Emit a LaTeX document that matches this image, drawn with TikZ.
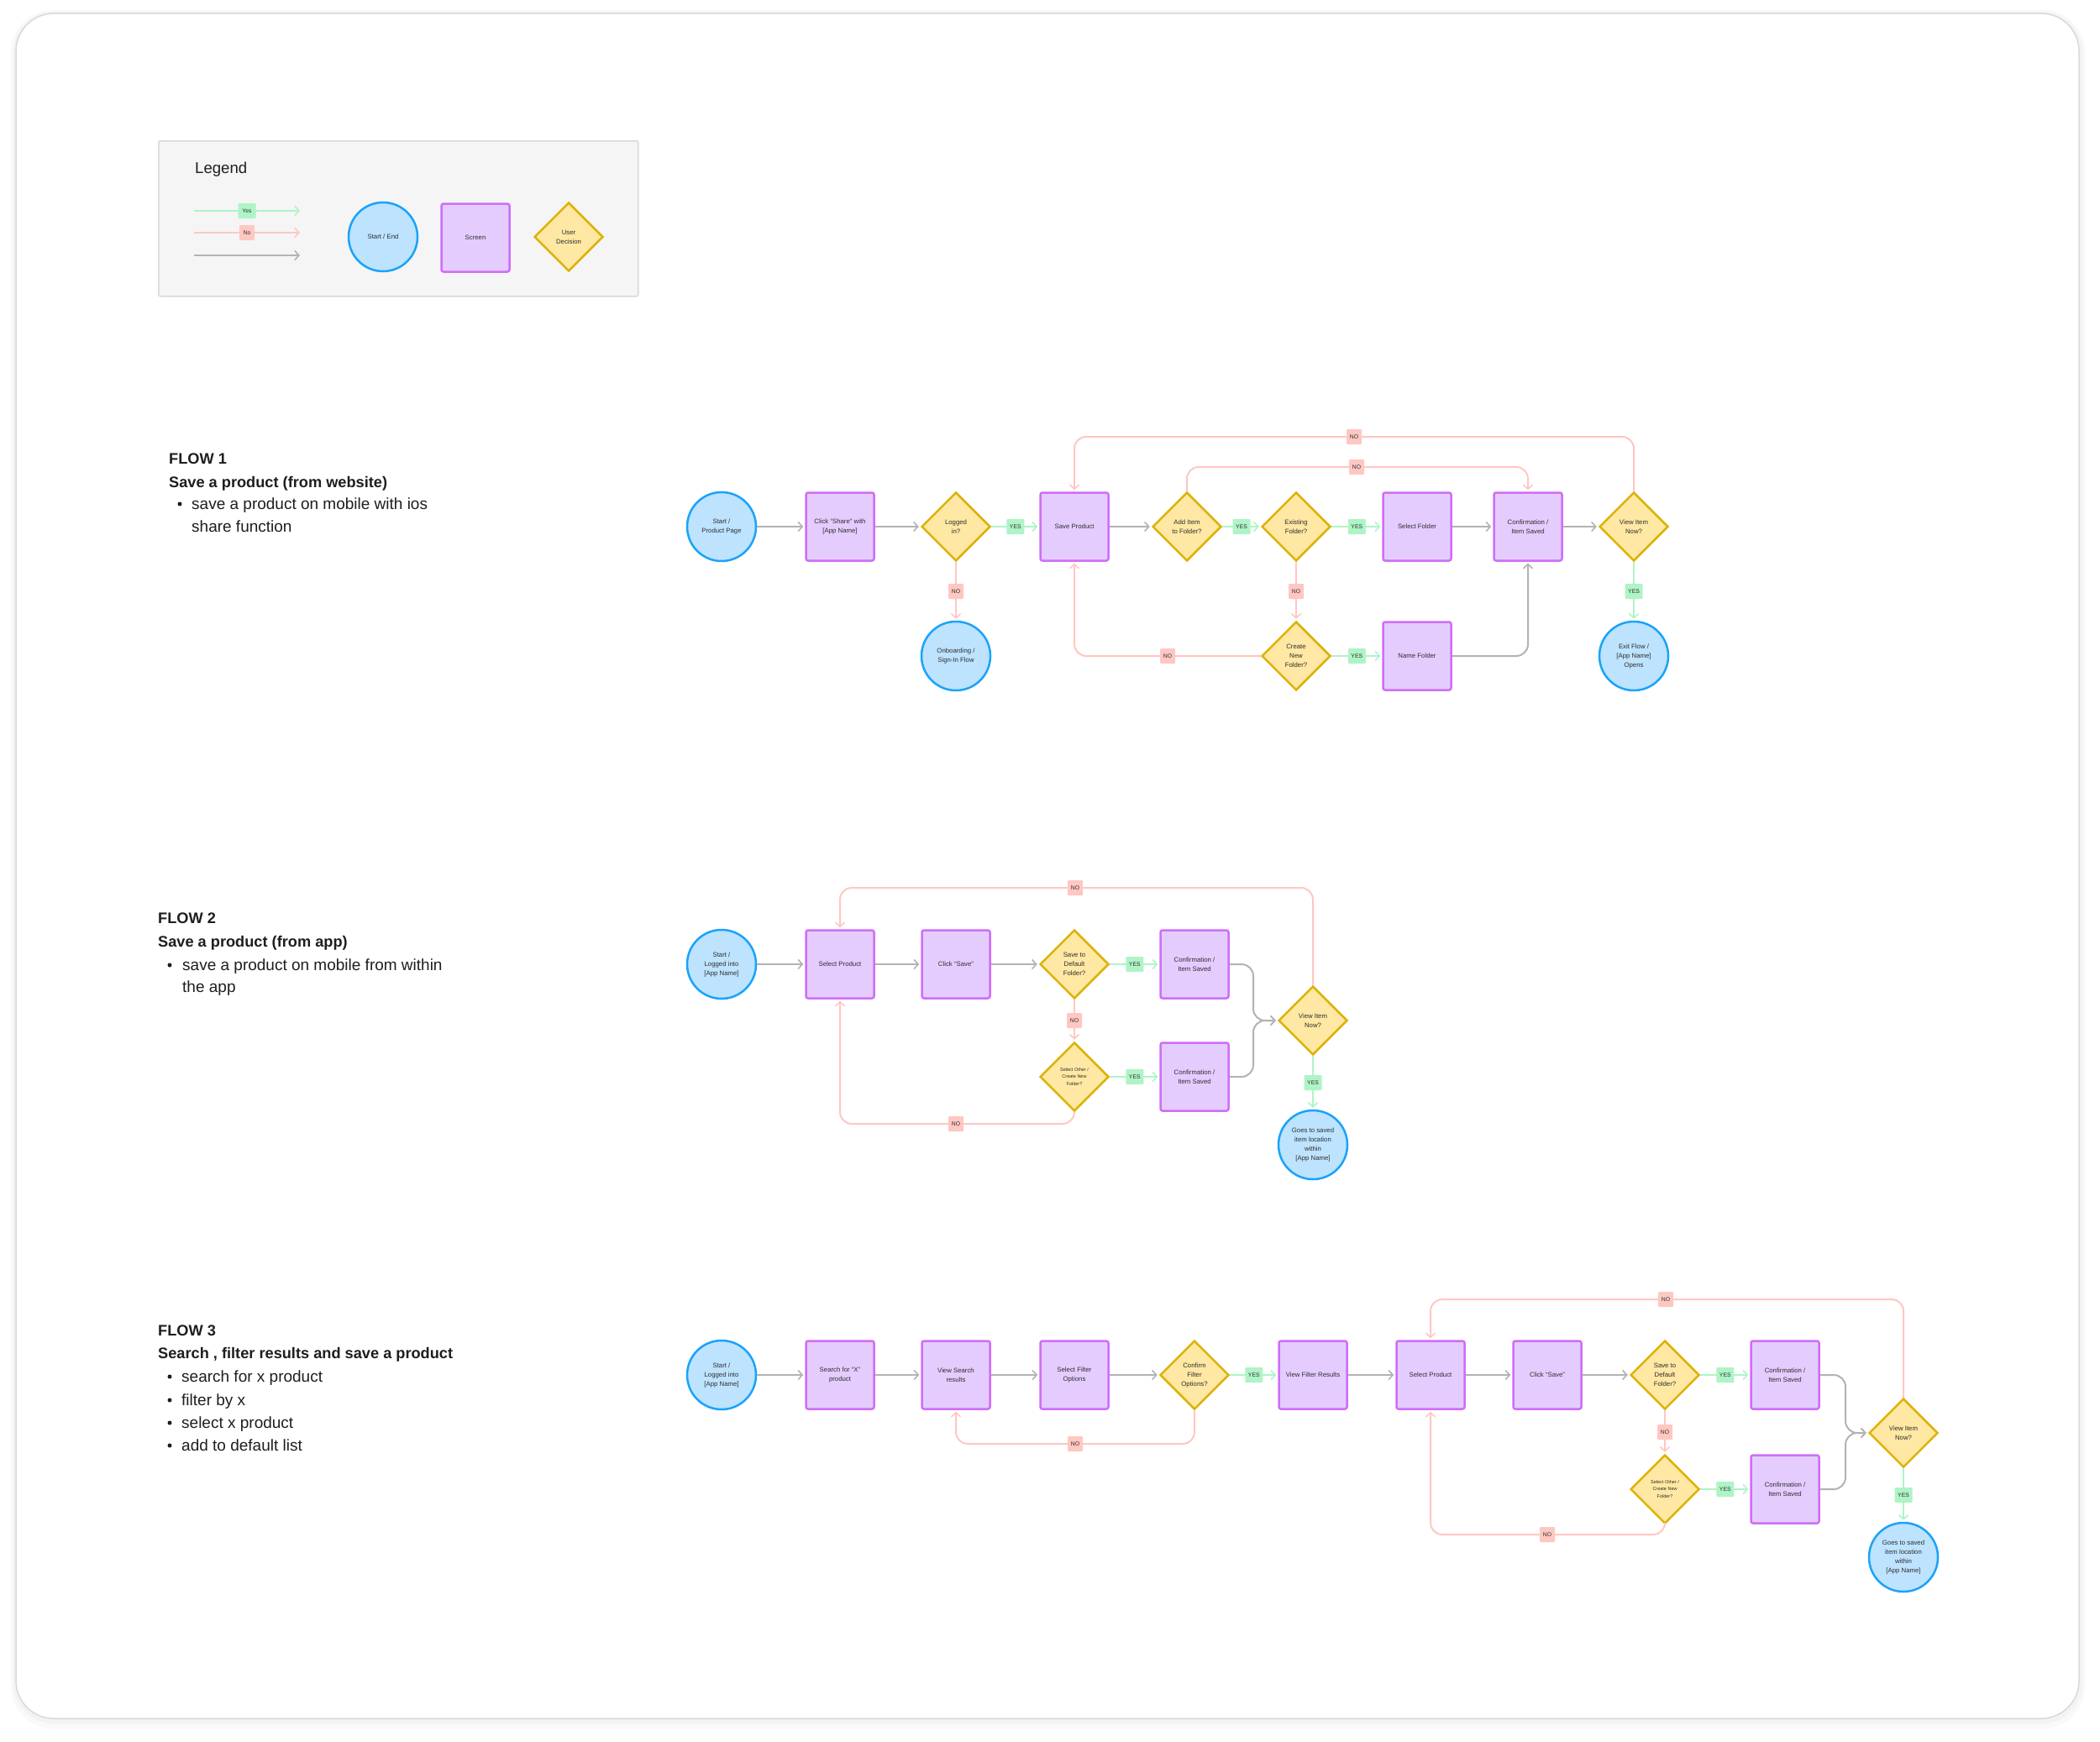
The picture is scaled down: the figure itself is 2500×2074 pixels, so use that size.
\documentclass[tikz,border=0pt]{standalone}
\usepackage{fontspec}
\setmainfont{Liberation Sans}
\usetikzlibrary{arrows.meta,shapes.geometric}
\definecolor{startfill}{HTML}{BDE3FF}
\definecolor{startdraw}{HTML}{1AA3FA}
\definecolor{scrfill}{HTML}{E4CCFF}
\definecolor{scrdraw}{HTML}{CF6EF7}
\definecolor{decfill}{HTML}{FFE8A3}
\definecolor{decdraw}{HTML}{DDB30B}
\definecolor{yesc}{HTML}{AFF4C6}
\definecolor{noc}{HTML}{FFC7C2}
\definecolor{grayc}{HTML}{B3B3B3}
\definecolor{txt}{HTML}{2E2E2E}
\definecolor{dtxt}{HTML}{1E1E1E}
\definecolor{legfill}{HTML}{F5F5F5}
\definecolor{legdraw}{HTML}{D9D9D9}
\newcommand\nodefont{\fontsize{7.8pt}{11pt}\selectfont}
\newcommand\smallnodefont{\fontsize{5.5pt}{8.3pt}\selectfont}
\newcommand\labfont{\fontsize{6.8pt}{8pt}\selectfont}
\newcommand\descfont{\fontsize{19pt}{22pt}\selectfont}
\newcommand\descbold{\fontsize{18.2pt}{22pt}\selectfont\bfseries}
\tikzset{
  startend/.style={circle, draw=startdraw, fill=startfill, line width=2.5pt, minimum size=82pt, inner sep=0pt, font=\nodefont, align=center, text=txt},
  screen/.style={rectangle, rounded corners=2.5pt, draw=scrdraw, fill=scrfill, line width=2.5pt, minimum width=81pt, minimum height=81pt, inner sep=0pt, font=\nodefont, align=center, text=txt},
  decision/.style={diamond, aspect=1, draw=decdraw, fill=decfill, line width=2.5pt, minimum width=82pt, minimum height=82pt, inner sep=0pt, font=\nodefont, align=center, text=txt},
  yeslabel/.style={fill=yesc, rectangle, rounded corners=1pt, font=\labfont, text=txt, inner sep=0pt, minimum width=21pt, minimum height=18pt},
  nolabel/.style={fill=noc, rectangle, rounded corners=1pt, font=\labfont, text=txt, inner sep=0pt, minimum width=18pt, minimum height=18pt},
  flowarrow/.style={line width=2pt, -{Straight Barb[length=5pt,width=11pt,line width=1.6pt]}, shorten >=2pt},
  yesline/.style={flowarrow, draw=yesc},
  noline/.style={flowarrow, draw=noc, rounded corners=14pt},
  grayline/.style={flowarrow, draw=grayc, rounded corners=14pt},
  desc/.style={anchor=base west, font=\descfont, text=dtxt, inner sep=0pt},
  descb/.style={anchor=base west, font=\descbold, text=dtxt, inner sep=0pt},
  bul/.style={circle, fill=dtxt, minimum size=5pt, inner sep=0pt}
}
\begin{document}
\begin{tikzpicture}[x=1pt,y=-1pt]
\useasboundingbox (0,0) rectangle (2500,2074);
% outer frame
\fill[black, opacity=0.025, rounded corners=50pt] (13,12) rectangle (2482,2058);
\fill[black, opacity=0.025, rounded corners=48pt] (16,14) rectangle (2479,2052);
\draw[legdraw, line width=1.5pt, fill=white, rounded corners=45pt] (19,16) rectangle (2475,2046);

% legend
\node[draw=legdraw, fill=legfill, line width=1.5pt, rounded corners=2pt, minimum width=571pt, minimum height=185pt, anchor=north west, inner sep=0pt] (legbox) at (188,167) {};
\node[anchor=base west, inner sep=0pt, font=\fontsize{18.6pt}{22pt}\selectfont, text=dtxt] (legtitle) at (232,206) {Legend};
\coordinate (ly1) at (231,251); \coordinate (ly2) at (357,251);
\coordinate (ln1) at (231,277); \coordinate (ln2) at (357,277);
\coordinate (lg1) at (231,304); \coordinate (lg2) at (357,304);
\draw[yesline, shorten >=0pt] (ly1) -- node[yeslabel]{Yes} (ly2);
\draw[noline, shorten >=0pt] (ln1) -- node[nolabel]{No} (ln2);
\draw[grayline, shorten >=0pt] (lg1) -- (lg2);
\node[startend] (lstart) at (456,282) {Start / End};
\node[screen] (lscreen) at (566,283) {Screen};
\node[decision] (ldec) at (677,282) {User\\Decision};

% descriptions
\node[descb] (f1a) at (201,552) {FLOW 1};
\node[descb] (f1b) at (201,580) {Save a product (from website)};
\node[bul] (f1c) at (214,600) {};
\node[desc] (f1d) at (228,606) {save a product on mobile with ios};
\node[desc] (f1e) at (228,633) {share function};

\node[descb] (f2a) at (188,1099) {FLOW 2};
\node[descb] (f2b) at (188,1127) {Save a product (from app)};
\node[bul] (f2c) at (202,1149) {};
\node[desc] (f2d) at (217,1155) {save a product on mobile from within};
\node[desc] (f2e) at (217,1181) {the app};

\node[descb] (f3a) at (188,1590) {FLOW 3};
\node[descb] (f3b) at (188,1617) {Search , filter results and save a product};
\node[bul] (f3c1) at (202,1639) {};
\node[desc] (f3d1) at (216,1645) {search for x product};
\node[bul] (f3c2) at (202,1667) {};
\node[desc] (f3d2) at (216,1673) {filter by x};
\node[bul] (f3c3) at (202,1694) {};
\node[desc] (f3d3) at (216,1700) {select x product};
\node[bul] (f3c4) at (202,1721) {};
\node[desc] (f3d4) at (216,1727) {add to default list};

% ---------------- FLOW 1
\node[startend] (start1) at (859,627) {Start /\\Product Page};
\node[screen] (click1) at (1000,627) {Click “Share” with\\{}[App Name]};
\node[decision] (logged1) at (1138,627) {Logged\\in?};
\node[screen] (save1) at (1279,627) {Save Product};
\node[decision] (add1) at (1413,627) {Add Item\\to Folder?};
\node[decision] (exist1) at (1543,627) {Existing\\Folder?};
\node[screen] (selfold1) at (1687,627) {Select Folder};
\node[screen] (conf1) at (1819,627) {Confirmation /\\Item Saved};
\node[decision] (view1) at (1945,627) {View Item\\Now?};
\node[startend] (onb1) at (1138,781) {Onboarding /\\Sign-In Flow};
\node[decision] (create1) at (1543,781) {Create\\New\\Folder?};
\node[screen] (name1) at (1687,781) {Name Folder};
\node[startend] (exit1) at (1945,781) {Exit Flow /\\{}[App Name]\\Opens};

\draw[grayline] (start1) -- (click1);
\draw[grayline] (click1) -- (logged1);
\draw[yesline] (logged1) -- node[yeslabel]{YES} (save1);
\draw[noline] (logged1) -- node[nolabel]{NO} (onb1);
\draw[grayline] (save1) -- (add1);
\draw[yesline] (add1) -- node[yeslabel]{YES} (exist1);
\draw[yesline] (exist1) -- node[yeslabel]{YES} (selfold1);
\draw[noline] (exist1) -- node[nolabel]{NO} (create1);
\draw[grayline] (selfold1) -- (conf1);
\draw[grayline] (conf1) -- (view1);
\draw[yesline] (view1) -- node[yeslabel]{YES} (exit1);
\draw[yesline] (create1) -- node[yeslabel]{YES} (name1);
\draw[grayline] (name1.east) -| (conf1.south);
\draw[noline] (view1.north) |- (1612,520) node[nolabel]{NO} -| (save1.north);
\draw[noline] (add1.north) |- (1615,556) node[nolabel]{NO} -| (conf1.north);
\draw[noline] (create1.west) -- (1390,781) node[nolabel]{NO} -| (save1.south);

% ---------------- FLOW 2
\node[startend] (start2) at (859,1148) {Start /\\Logged into\\{}[App Name]};
\node[screen] (sel2) at (1000,1148) {Select Product};
\node[screen] (click2) at (1138,1148) {Click “Save”};
\node[decision] (save2) at (1279,1148) {Save to\\Default\\Folder?};
\node[screen] (conf2a) at (1422,1148) {Confirmation /\\Item Saved};
\node[decision, font=\smallnodefont] (other2) at (1279,1282) {Select Other /\\Create New\\Folder?};
\node[screen] (conf2b) at (1422,1282) {Confirmation /\\Item Saved};
\node[decision] (view2) at (1563,1215) {View Item\\Now?};
\node[startend] (goes2) at (1563,1363) {Goes to saved\\item location\\within\\{}[App Name]};

\draw[grayline] (start2) -- (sel2);
\draw[grayline] (sel2) -- (click2);
\draw[grayline] (click2) -- (save2);
\draw[yesline] (save2) -- node[yeslabel]{YES} (conf2a);
\draw[noline] (save2) -- node[nolabel]{NO} (other2);
\draw[yesline] (other2) -- node[yeslabel]{YES} (conf2b);
\draw[grayline] (conf2a.east) -| (1492,1215) -- (view2.west);
\draw[grayline] (conf2b.east) -| (1492,1215) -- (view2.west);
\draw[yesline] (view2) -- node[yeslabel]{YES} (goes2);
\draw[noline] (view2.north) |- (1280,1057) node[nolabel]{NO} -| (sel2.north);
\draw[noline] (other2.south) |- (1138,1338) node[nolabel]{NO} -| (sel2.south);

% ---------------- FLOW 3
\node[startend] (start3) at (859,1637) {Start /\\Logged into\\{}[App Name]};
\node[screen] (search3) at (1000,1637) {Search for “X”\\product};
\node[screen] (vsr3) at (1138,1637) {View Search\\results};
\node[screen] (sfo3) at (1279,1637) {Select Filter\\Options};
\node[decision] (cfo3) at (1422,1637) {Confirm\\Filter\\Options?};
\node[screen] (vfr3) at (1563,1637) {View Filter Results};
\node[screen] (sel3) at (1703,1637) {Select Product};
\node[screen] (click3) at (1842,1637) {Click “Save”};
\node[decision] (save3) at (1982,1637) {Save to\\Default\\Folder?};
\node[screen] (conf3a) at (2125,1637) {Confirmation /\\Item Saved};
\node[decision, font=\smallnodefont] (other3) at (1982,1773) {Select Other /\\Create New\\Folder?};
\node[screen] (conf3b) at (2125,1773) {Confirmation /\\Item Saved};
\node[decision] (view3) at (2266,1706) {View Item\\Now?};
\node[startend] (goes3) at (2266,1854) {Goes to saved\\item location\\within\\{}[App Name]};

\draw[grayline] (start3) -- (search3);
\draw[grayline] (search3) -- (vsr3);
\draw[grayline] (vsr3) -- (sfo3);
\draw[grayline] (sfo3) -- (cfo3);
\draw[yesline] (cfo3) -- node[yeslabel]{YES} (vfr3);
\draw[noline] (cfo3.south) |- (1280,1719) node[nolabel]{NO} -| (vsr3.south);
\draw[grayline] (vfr3) -- (sel3);
\draw[grayline] (sel3) -- (click3);
\draw[grayline] (click3) -- (save3);
\draw[yesline] (save3) -- node[yeslabel]{YES} (conf3a);
\draw[noline] (save3) -- node[nolabel]{NO} (other3);
\draw[yesline] (other3) -- node[yeslabel]{YES} (conf3b);
\draw[grayline] (conf3a.east) -| (2197,1706) -- (view3.west);
\draw[grayline] (conf3b.east) -| (2197,1706) -- (view3.west);
\draw[yesline] (view3) -- node[yeslabel]{YES} (goes3);
\draw[noline] (view3.north) |- (1983,1547) node[nolabel]{NO} -| (sel3.north);
\draw[noline] (other3.south) |- (1842,1827) node[nolabel]{NO} -| (sel3.south);
\end{tikzpicture}
\end{document}
